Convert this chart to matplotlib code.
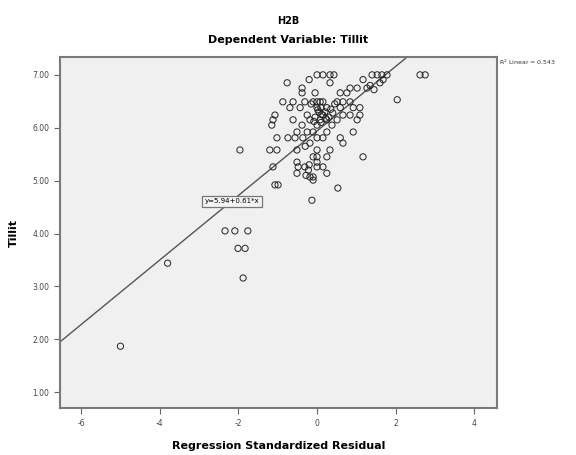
import numpy as np
import matplotlib.pyplot as plt

# Standardized residual (x) vs Tillit (y)
resid = [0.0, 0.15, 0.33, 0.43, 1.40, 1.53, 1.65, 1.78, 2.62, 2.75,
         -0.20, 1.17, 1.68,
         -0.76, 0.33, 1.60,
         -0.38, 0.84, 1.02, 1.27,
         -0.38, -0.05, 0.59, 0.76,
         2.04,
         -0.87, -0.61, -0.31, -0.10, 0.0, 0.08, 0.15, 0.51, 0.66, 0.84,
         -0.69, -0.43, 0.0, 0.10, 0.25, 0.59, 0.92, 1.09,
         -1.07, -0.25, 0.15, 0.66, 0.84, 1.09,
         -1.12, -0.61, -0.18, 0.08, 0.25, 0.51, 1.02,
         -1.15, -0.38, 0.0, 0.38,
         -0.51, -0.25, -0.10, 0.25, 0.92,
         -1.02, -0.74, -0.56, -0.36, 0.0, 0.15, 0.59,
         -0.18, 0.66,
         -1.96, -1.20, -1.02, -0.51, 0.0, 0.33,
         -0.10, 0.0, 0.25, 1.17,
         -0.51, 0.0,
         -1.12, -0.48, -0.31, 0.0, 0.15,
         -0.51, 0.25,
         -0.18, -0.10,
         -0.10,
         -1.07, -0.99,
         0.53,
         -0.13,
         -2.34, -2.09, -1.76,
         -2.01, -1.83,
         -3.80,
         -1.88,
         -5.00,
         0.05, 0.20, 0.30, -0.05, 0.10, 0.35, -0.15, 0.45, -0.22, -0.28,
         0.12, 0.22, 0.40, 0.02, -0.08, 1.35, 1.45, -0.30, -0.20]
tillit = [7.00, 7.00, 7.00, 7.00, 7.00, 7.00, 7.00, 7.00, 7.00, 7.00,
          6.91, 6.91, 6.91,
          6.85, 6.85, 6.85,
          6.75, 6.75, 6.75, 6.75,
          6.66, 6.66, 6.66, 6.66,
          6.53,
          6.49, 6.49, 6.49, 6.49, 6.49, 6.49, 6.49, 6.49, 6.49, 6.49,
          6.38, 6.38, 6.38, 6.38, 6.38, 6.38, 6.38, 6.38,
          6.24, 6.24, 6.24, 6.24, 6.24, 6.24,
          6.15, 6.15, 6.15, 6.15, 6.15, 6.15, 6.15,
          6.05, 6.05, 6.05, 6.05,
          5.92, 5.92, 5.92, 5.92, 5.92,
          5.81, 5.81, 5.81, 5.81, 5.81, 5.81, 5.81,
          5.71, 5.71,
          5.58, 5.58, 5.58, 5.58, 5.58, 5.58,
          5.45, 5.45, 5.45, 5.45,
          5.35, 5.35,
          5.26, 5.26, 5.26, 5.26, 5.26,
          5.14, 5.14,
          5.07, 5.07,
          5.01,
          4.92, 4.92,
          4.86,
          4.63,
          4.05, 4.05, 4.05,
          3.72, 3.72,
          3.44,
          3.16,
          1.87,
          6.30, 6.30, 6.20, 6.20, 6.10, 6.35, 6.45, 6.45, 5.20, 5.10,
          6.25, 6.18, 6.28, 6.34, 6.12, 6.80, 6.72, 5.65, 5.30]

intercept = 5.94
slope = 0.61
r2 = 0.543

xticks = [-6, -4, -2, 0, 2, 4]
yticks = [1, 2, 3, 4, 5, 6, 7]

fig = plt.figure(figsize=(5.76, 4.55), dpi=100)
ax = fig.add_axes([0.104, 0.103, 0.759, 0.772])
ax.set_facecolor('#f0f0f0')

ax.scatter(resid, tillit, s=20, facecolors='none', edgecolors='#222222', linewidths=0.7, zorder=3)

ax.set_xlim(-6.54, 4.58)
ax.set_ylim(0.70, 7.34)

xl = np.array(ax.get_xlim())
ax.plot(xl, intercept + slope * xl, color='#555555', lw=1.0, zorder=2)

ax.text(-2.16, 4.61, 'y=%.2f+%.2f*x' % (intercept, slope), fontsize=5, ha='center', va='center',
        bbox=dict(boxstyle='square,pad=0.35', fc='#f4f4f4', ec='#777777', lw=0.9), zorder=4)

for s in ax.spines.values():
    s.set_color('#7a7a7a')
    s.set_linewidth(1.5)

ax.set_xticks(xticks)
ax.set_xticklabels([str(t) for t in xticks])
ax.set_yticks(yticks)
ax.set_yticklabels(['%.2f' % t for t in yticks])
ax.tick_params(axis='both', labelsize=5.5, colors='#666666', length=4, width=0.8, direction='out')
ax.tick_params(axis='both', labelcolor='#444444')

ax.set_xlabel('Regression Standardized Residual', fontsize=8, fontweight='bold', labelpad=10)
ax.set_ylabel('Tillit', fontsize=8, fontweight='bold', labelpad=10)

fig.text(0.5, 0.953, 'H2B', fontsize=7, fontweight='bold', ha='center', va='center')
fig.text(0.5, 0.912, 'Dependent Variable: Tillit', fontsize=8, fontweight='bold', ha='center', va='center')
fig.text(0.866, 0.862, 'R$^2$ Linear = %.3f' % r2, fontsize=4.5, ha='left', va='center', color='#333333')

plt.savefig('out.png', dpi=100)
